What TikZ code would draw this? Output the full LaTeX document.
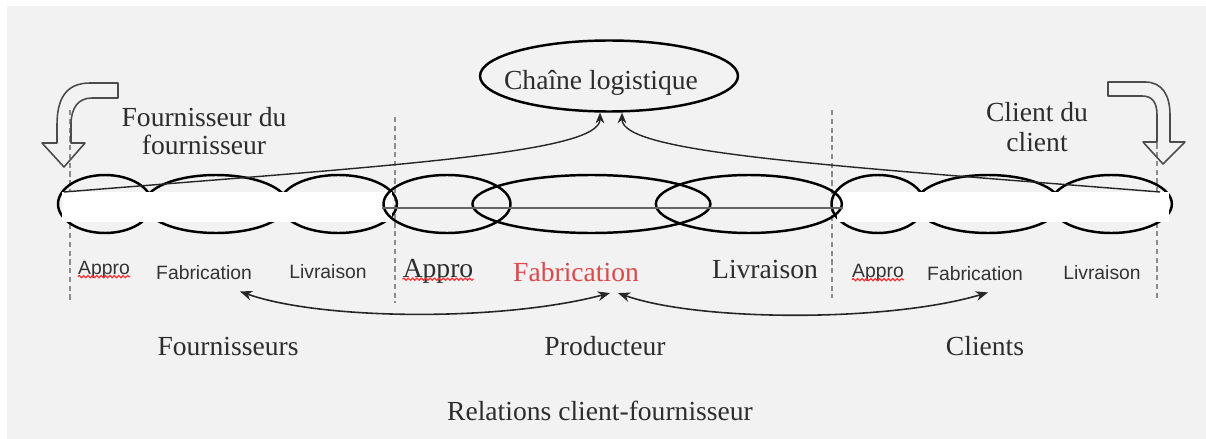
\documentclass[tikz,border=0pt]{standalone}
\usepackage{fontspec}
\setmainfont{Liberation Serif}
\newfontfamily\arialfont{Liberation Sans}
\usetikzlibrary{arrows.meta,calc,positioning,shapes.geometric,decorations.pathmorphing}
\definecolor{panel}{RGB}{242,242,242}
\definecolor{ink}{RGB}{45,45,45}
\definecolor{fabred}{RGB}{222,72,72}
\tikzset{
  lobe/.style={ellipse, draw=black, line width=1.4pt, inner sep=0pt, minimum height=1.16cm},
  lbl/.style={font=\fontsize{15.7}{14}\selectfont, text=ink, align=center, inner sep=0pt},
  small/.style={font=\arialfont\fontsize{11}{13}\selectfont, text=black!80, inner sep=0pt},
  guide/.style={draw=black!45, dash pattern=on 3pt off 2pt, line width=0.6pt},
  link/.style={->, >={Stealth[length=6pt,width=5pt]}, line width=0.8pt, draw=black!85},
  flow/.style={<->, >={Stealth[length=7pt,width=5.5pt]}, line width=0.9pt, draw=black!85},
  hollow/.style={draw=black!70, line width=0.9pt, line join=round},
  squiggle/.style={draw=red!80, line width=0.7pt, decorate, decoration={snake, amplitude=0.6pt, segment length=2.5pt}}
}

\begin{document}
\begin{tikzpicture}[x=0.02cm, y=-0.02cm]
  \useasboundingbox (0,0) rectangle (1206,439);
  \fill[white] (0,0) rectangle (1206,439);
  \fill[panel] (7,6) rectangle (1206,439);

  % dotted separators
  \draw[guide] (70,110) -- (70,300);
  \draw[guide] (395,117) -- (395,303);
  \draw[guide] (832,110) -- (832,298);
  \draw[guide] (1157,117) -- (1157,298);

  % supplier of the supplier
  \node[lobe, minimum width=1.88cm] (fa) at (105,204) {};
  \node[lobe, minimum width=2.86cm, right=-0.2cm of fa] (ff) {};
  \node[lobe, minimum width=2.34cm, right=-0.2cm of ff] (fl) {};
  \fill[white] ($(fa.west)+(5,-12)$) rectangle ($(fl.east)+(-6,18)$);

  % client of the client
  \node[lobe, minimum width=1.86cm] (ca) at (878,204) {};
  \node[lobe, minimum width=2.9cm, right=-0.23cm of ca] (cf) {};
  \node[lobe, minimum width=2.42cm, right=-0.24cm of cf] (cl) {};
  \fill[white] ($(ca.west)+(7,-12)$) rectangle ($(cl.east)+(-4,18)$);

  % producer
  \node[lobe, minimum width=2.54cm] (pa) at (447,204) {};
  \node[lobe, minimum width=4.76cm, right=-0.81cm of pa] (pf) {};
  \node[lobe, minimum width=3.72cm, right=-1.14cm of pf] (pl) {};
  \draw[black!60, line width=0.8pt] ($(pa.west)+(0,4)$) -- ($(pl.east)+(0,4)$);

  % supply chain
  \node[ellipse, draw=black, line width=1.4pt, minimum width=5.16cm, minimum height=1.42cm] (chain) at (609,76) {};
  \node[lbl] (chaintxt) at (601,83) {Chaîne logistique};
  \coordinate (lstart) at (64,192);
  \coordinate (rstart) at (1160,192);
  \draw[link] (lstart) .. controls (400,165) and ($(chain.south)+(-9,40)$) .. ($(chain.south)+(-9,0)$);
  \draw[link] (rstart) .. controls (820,165) and ($(chain.south)+(13,40)$) .. ($(chain.south)+(13,0)$);

  \node[lbl, font=\fontsize{15.7}{16}\selectfont] (ftitle) at (204,131) {Fournisseur du\\fournisseur};
  \node[lbl, font=\fontsize{15.7}{17}\selectfont] (ctitle) at (1037,127) {Client du\\client};

  % bent hollow arrows
  \draw[hollow] (118,83) -- (90,83) .. controls (65,83) and (57,100) .. (57,125) -- (57,143) -- (42,143)
    -- (64,167) -- (85,143) -- (71,143) -- (71,125) .. controls (71,108) and (78,98) .. (92,98) -- (118,98) -- cycle;
  \draw[hollow] (1108,82) -- (1145,82) .. controls (1162,82) and (1170,95) .. (1170,115) -- (1170,142) -- (1185,142)
    -- (1163,164) -- (1143,142) -- (1157,142) -- (1157,115) .. controls (1157,102) and (1152,96) .. (1142,96) -- (1108,96) -- cycle;

  % stage labels
  \node[small] (lappro) at (104,270) {Appro};
  \node[small] (lfab) at (204,273) {Fabrication};
  \node[small] (lliv) at (328,272) {Livraison};
  \node[lbl] (pappro) at (438,271) {Appro};
  \node[lbl, text=fabred] (pfab) at (576,272) {Fabrication};
  \node[lbl] (pliv) at (765,270) {Livraison};
  \node[small] (cappro) at (878,273) {Appro};
  \node[small] (cfab) at (975,274) {Fabrication};
  \node[small] (cliv) at (1102,273) {Livraison};
  \draw[squiggle] ($(lappro.base west)+(0,2)$) -- ($(lappro.base east)+(0,2)$);
  \draw[squiggle] ($(pappro.base west)+(0,2)$) -- ($(pappro.base east)+(0,2)$);
  \draw[squiggle] ($(cappro.base west)+(0,2)$) -- ($(cappro.base east)+(0,2)$);

  % client-supplier relations
  \draw[flow] ($(pfab.south)+(34,11)$) .. controls (500,322) and (320,320) .. ($(lfab.south)+(36,11)$);
  \draw[flow] ($(pfab.south)+(42,11)$) .. controls (700,322) and (890,322) .. ($(cfab.south)+(13,11)$);

  \node[lbl] (fourn) at (228,346) {Fournisseurs};
  \node[lbl] (prod) at (605,346) {Producteur};
  \node[lbl] (cli) at (985,346) {Clients};
  \node[lbl] (rel) at (600,411) {Relations client-fournisseur};
\end{tikzpicture}
\end{document}
